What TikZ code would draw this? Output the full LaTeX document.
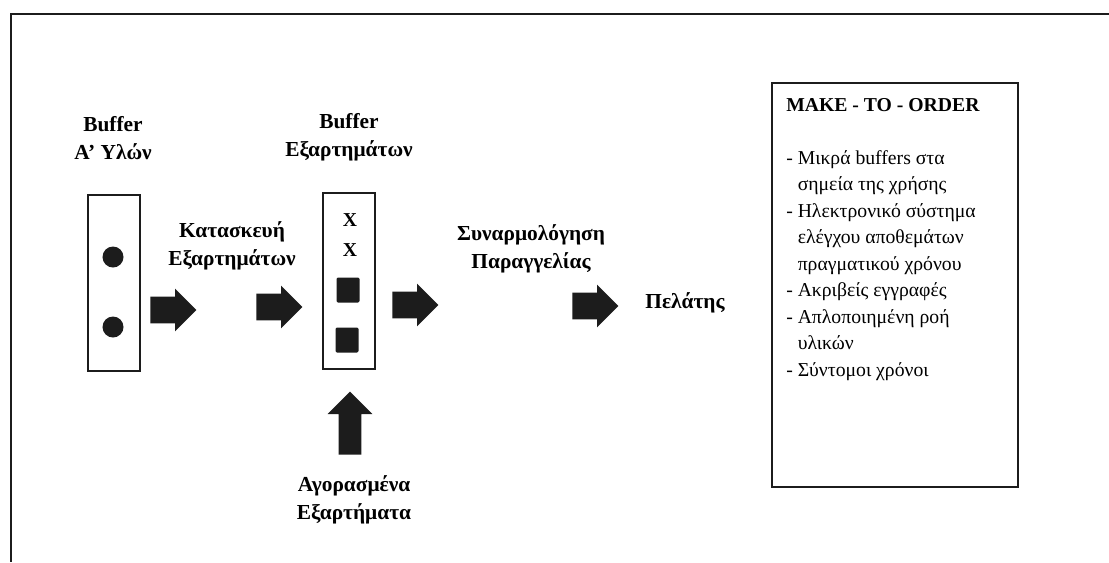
\documentclass[tikz,border=0pt]{standalone}
\usepackage{fontspec}
\setmainfont{Liberation Serif}
\usetikzlibrary{shapes.arrows}
\definecolor{inkdark}{HTML}{1C1C1C}

\begin{document}
\begin{tikzpicture}[x=0.025cm, y=-0.025cm,
    lbl/.style={font=\bfseries\fontsize{15.2}{20}\selectfont, align=center, inner sep=0},
    bin/.style={draw=inkdark, line width=1.1pt, minimum width=1.3cm, minimum height=4.4cm, inner sep=0},
    dot/.style={circle, fill=inkdark, minimum size=0.525cm, inner sep=0},
    blk/.style={rectangle, rounded corners=1pt, fill=inkdark, minimum width=0.575cm,
                minimum height=0.625cm, inner sep=0},
    xmark/.style={font=\bfseries\fontsize{14}{16}\selectfont, inner sep=0},
    blockarr/.style={single arrow, fill=inkdark, draw=none, inner xsep=0, inner ysep=0.325cm,
                     minimum height=1.15cm, single arrow head extend=0.2cm, anchor=tail}
  ]
    \useasboundingbox (0,0) rectangle (1109,562);
    % open frame, top and left only
    \draw[inkdark, line width=1.2pt] (1109,14) -- (11,14) -- (11,562);

    % raw materials buffer
    \node[lbl] (labA) at (113,138) {Buffer\\Α' Υλών};
    \node[bin] (bufA) at (114,283) {};
    \node[dot] (dotA1) at (113,257) {};
    \node[dot] (dotA2) at (113,327) {};

    \node[blockarr] (arrA) at (150,310) {};
    \node[lbl] (labK) at (232,246) {Κατασκευή\\Εξαρτημάτων};
    \node[blockarr] (arrK) at (256,307) {};

    % parts buffer
    \node[lbl] (labB) at (349,137) {Buffer\\Εξαρτημάτων};
    \node[bin] (bufB) at (349,281) {};
    \node[xmark] (x1) at (350,220) {X};
    \node[xmark] (x2) at (350,250) {X};
    \node[blk] (blk1) at (348,290) {};
    \node[blk] (blk2) at (347,340) {};

    \node[blockarr, rotate=90, minimum height=1.575cm, inner ysep=0.275cm,
          single arrow head extend=0.275cm] (arrUp) at (350,455) {};
    \node[lbl] (labAg) at (354,500) {Αγορασμένα\\Εξαρτήματα};

    \node[blockarr] (arrS) at (392,305) {};
    \node[lbl] (labS) at (531,249) {Συναρμολόγηση\\Παραγγελίας};
    \node[blockarr] (arrP) at (572,306) {};
    \node[lbl] (labP) at (685,303) {Πελάτης};

    % make-to-order notes
    \node[draw=inkdark, line width=1.1pt, minimum width=6.15cm, minimum height=10.1cm,
          inner sep=0] (mto) at (895,285) {};
    \node[anchor=north west, align=left, inner sep=0,
          font=\fontsize{14}{18.85}\selectfont] (mtotxt) at (786,98)
      {\textbf{MAKE - TO - ORDER}\\[18.85pt]
       - Μικρά buffers στα\\
       \hphantom{-\ }σημεία της χρήσης\\
       - Ηλεκτρονικό σύστημα\\
       \hphantom{-\ }ελέγχου αποθεμάτων\\
       \hphantom{-\ }πραγματικού χρόνου\\
       - Ακριβείς εγγραφές\\
       - Απλοποιημένη ροή\\
       \hphantom{-\ }υλικών\\
       - Σύντομοι χρόνοι};
\end{tikzpicture}
\end{document}
